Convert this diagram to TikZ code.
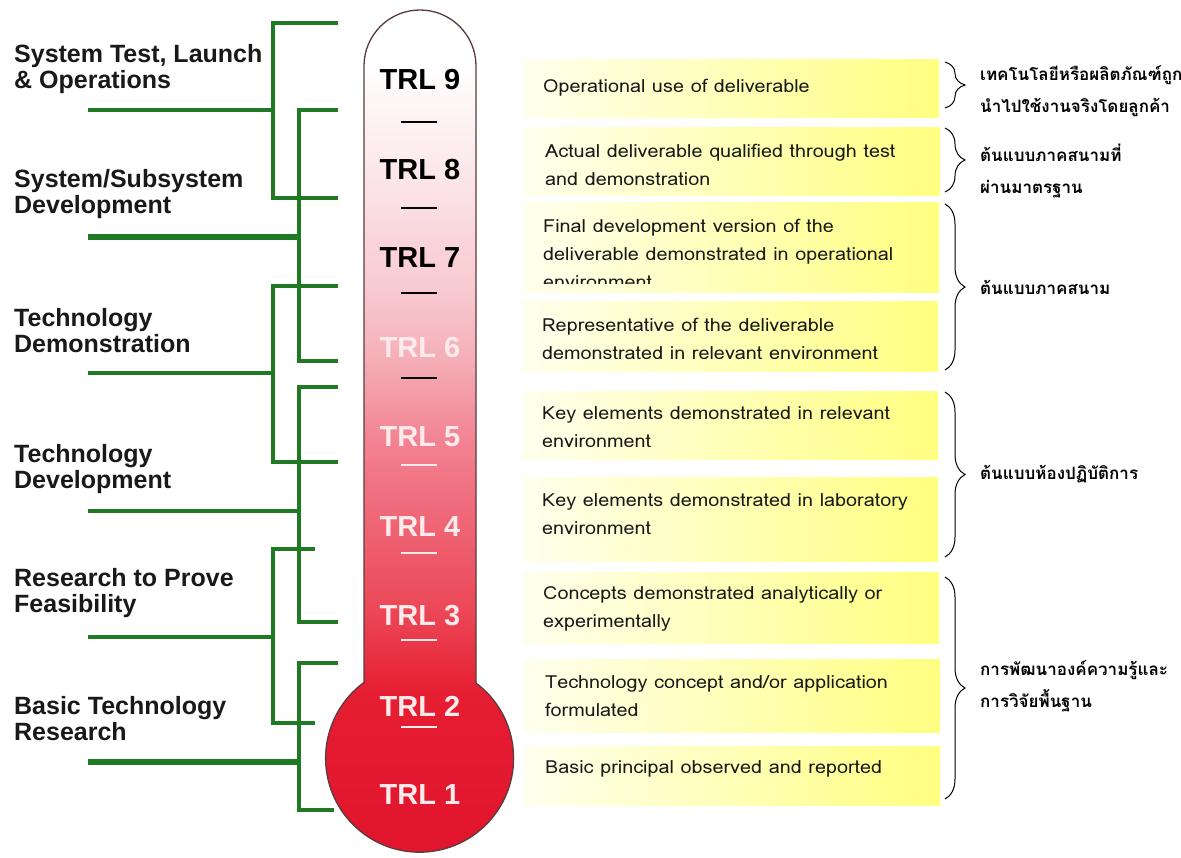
\documentclass[tikz,border=0pt]{standalone}
\usepackage{fontspec}
\setmainfont{Liberation Sans}
\newfontfamily\thai[Script=Thai]{Loma}
\newfontfamily\boxfont[Script=Thai,FakeStretch=1.1]{Loma}
\usetikzlibrary{decorations.pathreplacing}
\definecolor{grn}{RGB}{32,122,36}
\definecolor{tred}{RGB}{224,20,44}
\definecolor{c1}{RGB}{252,236,238}
\definecolor{c2}{RGB}{248,200,208}
\definecolor{c3}{RGB}{245,176,184}
\definecolor{c4}{RGB}{242,128,144}
\definecolor{c5}{RGB}{238,96,112}
\definecolor{c6}{RGB}{236,72,88}
\definecolor{c7}{RGB}{230,30,50}
\definecolor{ylw}{RGB}{255,255,128}
\definecolor{ylwl}{RGB}{255,255,238}
\pgfdeclareverticalshading{thermo}{100bp}{color(0bp)=(tred); color(25bp)=(tred); color(35bp)=(c7); color(40bp)=(c6); color(44bp)=(c5); color(49.5bp)=(c4); color(54.8bp)=(c3); color(58.4bp)=(c2); color(66.7bp)=(c1); color(72bp)=(white); color(100bp)=(white)}
\tikzset{
  gl/.style={draw=grn, line width=3.5pt},
  glt/.style={draw=grn, line width=5.5pt},
  lab/.style={anchor=west, align=left, font=\fontsize{25}{26}\selectfont\bfseries, text=black!90, inner sep=0pt},
  trl/.style={font=\fontsize{29}{30}\selectfont\bfseries, inner sep=0pt},
  tick/.style={line width=2.6pt},
  ybox/.style={left color=ylwl, right color=ylw, draw=none},
  btxt/.style={anchor=west, align=left, font=\boxfont\fontsize{18}{28}\selectfont, inner sep=0pt, text=black!90},
  brc/.style={draw=black, line width=1pt, decorate, decoration={brace, amplitude=20pt, aspect=0.5}},
  thl/.style={anchor=west, align=left, font=\thai\fontsize{17}{32}\selectfont\bfseries, inner sep=0pt},
}
\begin{document}
\begin{tikzpicture}[x=1pt,y=1pt]
\useasboundingbox (0,0) rectangle (1181,-858);
\fill[white] (0,0) rectangle (1181,-858);
% thermometer
\path[shading=thermo, draw={rgb,255:red,90;green,60;blue,60}, line width=1.3pt]
  (364,-683) -- (364,-66) arc[start angle=180,end angle=0,radius=56] -- (476,-683)
  arc[start angle=53.13,end angle=-233.13,radius=94] -- cycle;
\node[trl, text=black] (t9) at (420,-80) {TRL 9};
\node[trl, text=black] (t8) at (420,-170) {TRL 8};
\node[trl, text=black] (t7) at (420,-258) {TRL 7};
\node[trl, text=white!92!red] (t6) at (420,-348) {TRL 6};
\node[trl, text=white!92!red] (t5) at (420,-437) {TRL 5};
\node[trl, text=white!92!red] (t4) at (420,-527) {TRL 4};
\node[trl, text=white!92!red] (t3) at (420,-616) {TRL 3};
\node[trl, text=white!92!red] (t2) at (420,-706) {TRL 2};
\node[trl, text=white!92!red] (t1) at (420,-795) {TRL 1};
\foreach \yy in {122,208,293,378} \draw[tick, black] (401,-\yy) -- (437,-\yy);
\foreach \yy in {465,553,640,727} \draw[tick, white!92!red] (401,-\yy) -- (437,-\yy);
% left labels
\node[lab] (l1) at (14,-69) {System Test, Launch\\\& Operations};
\node[lab] (l2) at (14,-194) {System/Subsystem\\Development};
\node[lab] (l3) at (14,-331) {Technology\\Demonstration};
\node[lab] (l4) at (14,-469) {Technology\\Development};
\node[lab] (l5) at (14,-593) {Research to Prove\\Feasibility};
\node[lab] (l6) at (14,-719) {Basic Technology\\Research};
% green brackets
\coordinate (a0) at (88,-110); \coordinate (a1) at (273,-110);
\coordinate (at) at (338,-23); \coordinate (ab) at (338,-198);
\draw[gl] (at) -| (273,-198) -- (ab);
\draw[gl] (a0) -- (a1);
\coordinate (b0) at (88,-237); \coordinate (b1) at (299,-237);
\coordinate (bt) at (338,-110); \coordinate (bb) at (338,-361);
\draw[gl] (bt) -| (299,-361) -- (bb);
\draw[glt] (b0) -- (b1);
\coordinate (c0) at (88,-373); \coordinate (c1) at (273,-373);
\coordinate (ct) at (338,-286); \coordinate (cb) at (338,-462);
\draw[gl] (ct) -| (273,-462) -- (cb);
\draw[gl] (c0) -- (c1);
\coordinate (d0) at (88,-511); \coordinate (d1) at (299,-511);
\coordinate (dt) at (338,-387); \coordinate (db) at (338,-622);
\draw[gl] (dt) -| (299,-622) -- (db);
\draw[gl] (d0) -- (d1);
\coordinate (e0) at (88,-637); \coordinate (e1) at (273,-637);
\coordinate (et) at (315,-549); \coordinate (eb) at (315,-723);
\draw[gl] (et) -| (273,-723) -- (eb);
\draw[gl] (e0) -- (e1);
\coordinate (f0) at (88,-762); \coordinate (f1) at (299,-762);
\coordinate (ft) at (338,-663); \coordinate (fb) at (334,-810);
\draw[gl] (ft) -| (299,-810) -- (fb);
\draw[glt] (f0) -- (f1);
% yellow boxes
\path[ybox] (523,-60) rectangle (939,-118);
\path[ybox] (524,-128) rectangle (940,-196);
\path[ybox] (523,-203) rectangle (939,-293);
\path[ybox] (522,-302) rectangle (938,-372);
\path[ybox] (522,-392) rectangle (938,-459);
\path[ybox] (522,-477) rectangle (938,-561);
\path[ybox] (523,-572) rectangle (939,-643);
\path[ybox] (524,-659) rectangle (940,-732);
\path[ybox] (524,-746) rectangle (940,-805);
\node[btxt] (x9) at (543,-88) {Operational use of deliverable};
\node[btxt] (x8) at (545,-165) {Actual deliverable qualified through test\\and demonstration};
\begin{scope}
\clip (523,-203) rectangle (939,-284);
\node[btxt] (x7) at (543,-254) {Final development version of the\\deliverable demonstrated in operational\\environment};
\end{scope}
\node[btxt] (x6) at (542,-339) {Representative of the deliverable\\demonstrated in relevant environment};
\node[btxt] (x5) at (542,-427) {Key elements demonstrated in relevant\\environment};
\node[btxt] (x4) at (542,-514) {Key elements demonstrated in laboratory\\environment};
\node[btxt] (x3) at (543,-609) {Concepts demonstrated analytically or\\experimentally};
\node[btxt] (x2) at (545,-696) {Technology concept and/or application\\formulated};
\node[btxt] (x1) at (545,-769) {Basic principal observed and reported};
% braces
\coordinate (r1t) at (945,-62); \coordinate (r1b) at (945,-108);
\coordinate (r2t) at (945,-128); \coordinate (r2b) at (945,-192);
\coordinate (r3t) at (945,-204); \coordinate (r3b) at (945,-370);
\coordinate (r4t) at (945,-392); \coordinate (r4b) at (945,-557);
\coordinate (r5t) at (945,-577); \coordinate (r5b) at (945,-799);
\draw[brc] (r1t) -- (r1b);
\draw[brc] (r2t) -- (r2b);
\draw[brc] (r3t) -- (r3b);
\draw[brc] (r4t) -- (r4b);
\draw[brc] (r5t) -- (r5b);
\node[thl] (h1) at (980,-91) {เทคโนโลยีหรือผลิตภัณฑ์ถูก\\นำไปใช้งานจริงโดยลูกค้า};
\node[thl] (h2) at (980,-171) {ต้นแบบภาคสนามที่\\ผ่านมาตรฐาน};
\node[thl] (h3) at (980,-287) {ต้นแบบภาคสนาม};
\node[thl] (h4) at (980,-474) {ต้นแบบห้องปฏิบัติการ};
\node[thl] (h5) at (980,-686) {การพัฒนาองค์ความรู้และ\\การวิจัยพื้นฐาน};
\end{tikzpicture}
\end{document}
